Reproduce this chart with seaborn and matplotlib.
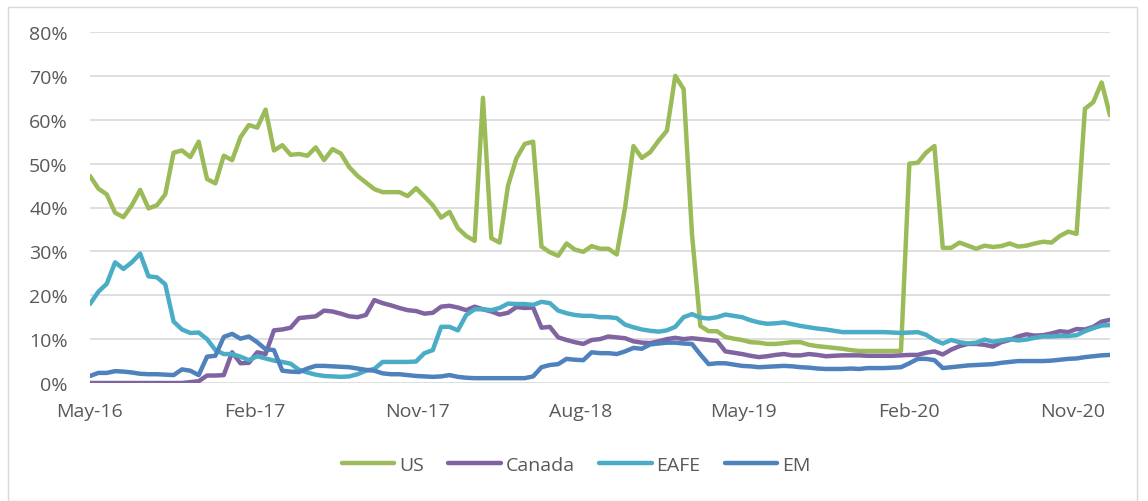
import pandas as pd
import matplotlib
matplotlib.use("Agg")
import matplotlib.pyplot as plt
import matplotlib.dates as mdates
from matplotlib.patches import Rectangle
import seaborn as sns

# biweekly readings, % of portfolio
us = [47.2, 44.3, 43, 38.8, 37.8, 40.5, 44, 39.8, 40.5, 43,
      52.5, 53, 51.5, 55, 46.5, 45.5, 51.8, 50.8, 56, 58.8,
      58.2, 62.3, 53, 54.2, 52, 52.2, 51.8, 53.7, 50.8, 53.3,
      52.3, 49.2, 47.2, 45.7, 44.2, 43.5, 43.5, 43.5, 42.6, 44.4,
      42.5, 40.5, 37.7, 39, 35.3, 33.5, 32.4, 65, 33, 32,
      45, 51.2, 54.5, 55, 31.1, 29.8, 29, 31.8, 30.4, 29.9,
      31.2, 30.6, 30.6, 29.3, 40, 54, 51.3, 52.6, 55.2, 57.5,
      70, 67, 34, 13, 11.8, 11.8, 10.5, 10.1, 9.8, 9.3,
      9.2, 8.9, 8.9, 9.1, 9.3, 9.3, 8.7, 8.4, 8.2, 8,
      7.8, 7.5, 7.3, 7.3, 7.3, 7.3, 7.3, 7.3, 50, 50.2,
      52.5, 54, 30.8, 30.8, 32, 31.3, 30.6, 31.3, 31, 31.2,
      31.8, 31.1, 31.3, 31.8, 32.2, 32, 33.5, 34.5, 34, 62.5,
      64, 68.5, 61]
canada = [0, 0, 0, 0, 0, 0, 0, 0, 0, 0,
          0, 0, 0.2, 0.4, 1.7, 1.7, 1.8, 7, 4.5, 4.6,
          7, 6.6, 12, 12.2, 12.6, 14.8, 15, 15.2, 16.5, 16.3,
          15.8, 15.2, 15, 15.5, 18.9, 18.2, 17.7, 17.1, 16.6, 16.4,
          15.8, 16, 17.4, 17.6, 17.2, 16.6, 17.4, 16.8, 16.3, 15.6,
          16, 17.3, 17.1, 17.2, 12.6, 12.8, 10.4, 9.8, 9.3, 8.9,
          9.8, 10, 10.6, 10.4, 10.2, 9.5, 9.2, 9.1, 9.5, 10,
          10.3, 10, 10.2, 10, 9.8, 9.6, 7.2, 6.9, 6.6, 6.2,
          5.9, 6.1, 6.4, 6.6, 6.3, 6.3, 6.6, 6.4, 6.1, 6.2,
          6.3, 6.3, 6.3, 6.2, 6.2, 6.2, 6.2, 6.3, 6.4, 6.4,
          6.9, 7.2, 6.5, 7.6, 8.4, 8.9, 8.9, 8.7, 8.3, 9.3,
          9.8, 10.6, 11.1, 10.8, 10.9, 11.3, 11.8, 11.6, 12.3, 12.2,
          12.8, 14, 14.4]
eafe = [18, 20.8, 22.6, 27.5, 26, 27.5, 29.5, 24.3, 24.1, 22.5,
        14, 12.2, 11.4, 11.5, 10, 7.5, 6.6, 6.6, 6, 5.2,
        6.1, 5.6, 5.1, 4.8, 4.4, 3, 2.4, 1.9, 1.6, 1.5,
        1.4, 1.5, 2, 2.8, 3.2, 4.8, 4.8, 4.8, 4.8, 4.9,
        6.8, 7.5, 12.8, 12.8, 12, 15.5, 16.8, 16.8, 16.6, 17.1,
        18.1, 18, 18, 17.8, 18.5, 18.2, 16.5, 15.9, 15.5, 15.3,
        15.3, 15, 15, 14.8, 13.3, 12.7, 12.2, 11.9, 11.7, 12,
        12.8, 15, 15.7, 14.9, 14.7, 15, 15.6, 15.3, 15, 14.3,
        13.8, 13.5, 13.6, 13.8, 13.4, 13, 12.7, 12.4, 12.2, 11.9,
        11.6, 11.6, 11.6, 11.6, 11.6, 11.6, 11.5, 11.4, 11.5, 11.6,
        11, 9.8, 9, 9.8, 9.3, 9, 9.2, 9.9, 9.4, 9.7,
        10, 9.7, 9.9, 10.3, 10.6, 10.6, 10.7, 10.7, 10.9, 11.8,
        12.5, 13.1, 13.2]
em = [1.6, 2.3, 2.3, 2.7, 2.6, 2.4, 2.1, 2, 2, 1.9,
      1.8, 3.1, 2.8, 1.8, 6, 6.2, 10.5, 11.2, 10.1, 10.6,
      9.3, 7.7, 7.5, 2.8, 2.6, 2.5, 3.3, 3.9, 3.9, 3.8,
      3.7, 3.6, 3.3, 3, 2.8, 2.2, 2, 2, 1.8, 1.6,
      1.5, 1.4, 1.5, 1.8, 1.4, 1.2, 1.1, 1.1, 1.1, 1.1,
      1.1, 1.1, 1.1, 1.5, 3.6, 4.1, 4.3, 5.5, 5.3, 5.2,
      7, 6.8, 6.8, 6.6, 7.2, 8, 7.8, 8.8, 9, 9.2,
      9.2, 9, 8.9, 6.5, 4.3, 4.5, 4.5, 4.2, 3.9, 3.8,
      3.6, 3.7, 3.8, 3.9, 3.8, 3.6, 3.5, 3.3, 3.2, 3.2,
      3.2, 3.3, 3.2, 3.4, 3.4, 3.4, 3.5, 3.6, 4.5, 5.5,
      5.5, 5.2, 3.4, 3.6, 3.8, 4, 4.1, 4.2, 4.3, 4.6,
      4.8, 5, 5, 5, 5, 5.1, 5.3, 5.5, 5.6, 5.9,
      6.1, 6.3, 6.4]

series_names = ["US", "Canada", "EAFE", "EM"]
colors = ["#9BBB59", "#8064A2", "#4BACC6", "#4F81BD"]
tick_dates = ["2016-05-01", "2017-02-01", "2017-11-01", "2018-08-01",
              "2019-05-01", "2020-02-01", "2020-11-01"]
y_ticks = [0, 10, 20, 30, 40, 50, 60, 70, 80]

dates = pd.date_range("2016-05-01", periods=len(us), freq="14D")
df = pd.concat([
    pd.DataFrame({"date": dates, "value": vals, "series": name})
    for name, vals in zip(series_names, [us, canada, eafe, em])
])

sns.set_style("white")
plt.rcParams["font.family"] = ["Open Sans", "DejaVu Sans"]

fig = plt.figure(figsize=(11.48, 5.02), dpi=100)
ax = fig.add_axes([90 / 1148, 1 - 384 / 502, 1020 / 1148, 351 / 502])

sns.lineplot(data=df, x="date", y="value", hue="series", hue_order=series_names,
             palette=colors, linewidth=3.2, ax=ax,
             solid_joinstyle="round", solid_capstyle="round")

ax.set_xlim(dates[0], dates[-1])
ax.set_ylim(0, 80)
ax.set_yticks(y_ticks)
ax.set_yticklabels([f"{v}%" for v in y_ticks])
ax.set_xticks(pd.to_datetime(tick_dates))
ax.xaxis.set_major_formatter(mdates.DateFormatter("%b-%y"))
ax.yaxis.grid(True, color="#d9d9d9", linewidth=1.2)
ax.set_axisbelow(True)
for s in ax.spines.values():
    s.set_visible(False)
ax.tick_params(axis="both", length=0, labelsize=14, labelcolor="#595959")
ax.tick_params(axis="y", pad=16)
ax.tick_params(axis="x", pad=14)
ax.set_xlabel("")
ax.set_ylabel("")

sns.move_legend(ax, "center", bbox_to_anchor=(0.502, 1 - 466 / 502),
                bbox_transform=fig.transFigure, ncol=4, frameon=False,
                title=None, fontsize=14, handlelength=2.7,
                handletextpad=0.25, columnspacing=1.25)
for t in ax.get_legend().get_texts():
    t.set_color("#595959")

fig.patches.append(Rectangle((8 / 1148, 0), 1129 / 1148, 494 / 502,
                             transform=fig.transFigure, fill=False,
                             edgecolor="#d9d9d9", linewidth=1))

fig.savefig("out.png", dpi=100)
